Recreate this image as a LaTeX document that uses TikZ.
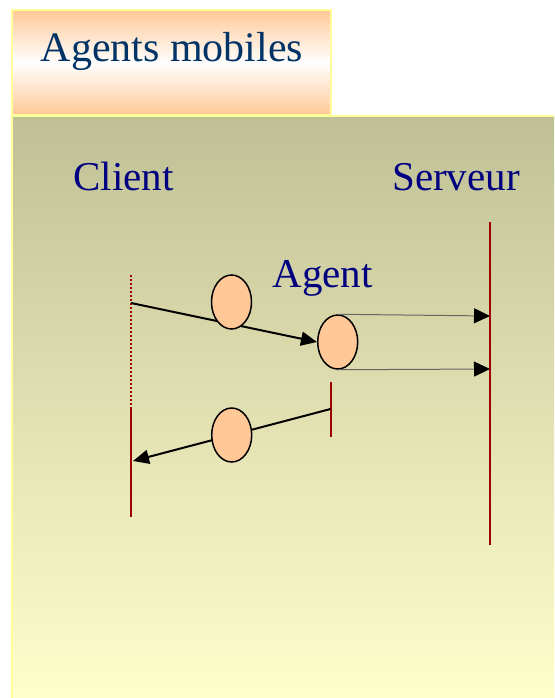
\documentclass[tikz,border=0pt]{standalone}
\usepackage{fontspec}
\setmainfont{Liberation Serif}
\usetikzlibrary{shapes.geometric,arrows.meta}
\definecolor{panelTop}{RGB}{192,192,150}
\definecolor{panelBot}{RGB}{255,255,204}
\definecolor{edgeYel}{RGB}{255,255,153}
\definecolor{titleOr}{RGB}{255,200,150}
\definecolor{titleTxt}{RGB}{0,51,102}
\definecolor{lblTxt}{RGB}{0,0,128}
\definecolor{lifeRed}{RGB}{160,0,0}
\definecolor{agentFill}{RGB}{255,200,150}
\tikzset{
  lbl/.style={text=lblTxt, font=\fontsize{41}{44}\selectfont, anchor=base, inner sep=0},
  agentball/.style={ellipse, draw=black, line width=1.5pt, fill=agentFill, minimum width=40pt, minimum height=54pt, inner sep=0},
  lifeline/.style={draw=lifeRed, line width=2pt},
  msg/.style={draw=black, line width=2pt, -{Triangle[length=16pt,width=14pt]}},
  thinmsg/.style={draw=black!60, line width=1pt, -{Triangle[length=16pt,width=15pt,color=black]}},
}
\begin{document}
\begin{tikzpicture}[x=1pt,y=-1pt]
\useasboundingbox (0,0) rectangle (554,698);
\fill[white] (0,0) rectangle (554,698);
% main panel
\shade[top color=panelTop, bottom color=panelBot] (12,116) rectangle (554,698);
\draw[edgeYel, line width=2pt] (12,698) -- (12,116) -- (554,116);
% title box
\shade[top color=titleOr, bottom color=titleOr, middle color=white] (12,10) rectangle (331,115);
\draw[edgeYel, line width=2pt] (12,10) rectangle (331,115);
\node[text=titleTxt, font=\fontsize{42}{46}\selectfont, anchor=base, inner sep=0] (title) at (172,62) {Agents mobiles};
% labels
\node[lbl] (client) at (123.5,190) {Client};
\node[lbl] (serveur) at (456,190) {Serveur};
\node[lbl] (agentlbl) at (322.5,287) {Agent};
% lifelines
\coordinate (cdTop) at (131,275);
\coordinate (cdBot) at (131,405);
\coordinate (csTop) at (131,407);
\coordinate (csBot) at (131,517);
\coordinate (sTop) at (490,222);
\coordinate (sBot) at (490,545);
\coordinate (aTop) at (330.5,382);
\coordinate (aBot) at (330.5,437);
\draw[lifeRed, line width=1.5pt, dash pattern=on 2pt off 2pt] (cdTop) -- (cdBot);
\draw[lifeline] (csTop) -- (csBot);
\draw[lifeline] (sTop) -- (sBot);
\draw[lifeline] (aTop) -- (aBot);
% agent nodes
\node[agentball] (agent) at (337.7,342) {};
\coordinate (c1) at (131,303);
\coordinate (r1) at (330.5,409);
\coordinate (r2) at (133,461);
\draw[msg] (c1) -- (agent.west);
\node[agentball] (b1) at (231.5,302) {};
\draw[msg] (r1) -- (r2);
\node[agentball] (b2) at (231.7,435) {};
\coordinate (s1) at (490,316) ;
\coordinate (s2) at (490,369);
\draw[thinmsg] (agent.north) -- (s1);
\draw[thinmsg] (agent.south) -- (s2);
\end{tikzpicture}
\end{document}
